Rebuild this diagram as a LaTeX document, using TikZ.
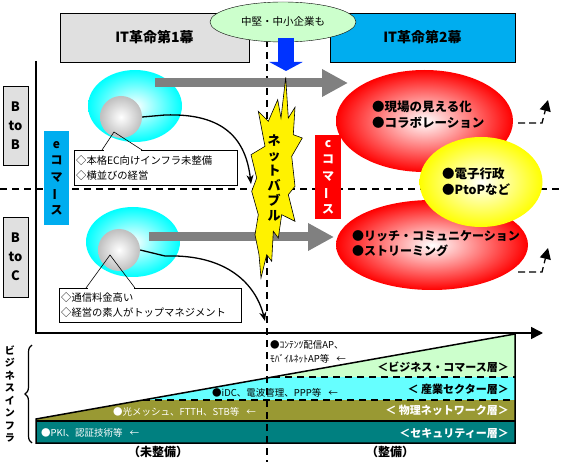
\documentclass[tikz,border=0pt]{standalone}
\usepackage{fontspec}
\setmainfont{Noto Sans CJK JP}
\usepackage{tikz}
\usetikzlibrary{arrows.meta, positioning, shapes.geometric, decorations.pathreplacing}
\definecolor{colorPanel}{HTML}{E0E0E0}
\definecolor{colorMint}{HTML}{CCFFCC}
\definecolor{colorAqua}{HTML}{66FFFF}
\definecolor{colorOlive}{HTML}{999933}
\definecolor{colorTeal}{HTML}{008080}
\definecolor{arrowGray}{HTML}{808080}
\definecolor{arrowBlue}{HTML}{0033FF}
\tikzset{guide/.style={line width=1.5pt, dash pattern=on 7pt off 5pt}}
\newcommand{\vbar}{\rotatebox[origin=c]{90}{ー}}

\begin{document}
\begin{tikzpicture}[x=1pt, y=-1pt, >={Stealth[length=9pt,width=7pt]},
  era/.style={draw, line width=0.8pt, inner sep=0pt, minimum height=49pt, font=\fontsize{14}{16}\selectfont\bfseries},
  tag/.style={draw, inner sep=0pt, align=center, font=\fontsize{12}{16.5}\selectfont\bfseries},
  blob/.style={ellipse, inner sep=0pt, shading=radial, inner color=white},
  ball/.style={circle, inner sep=0pt, minimum size=42pt, shading=radial, inner color=white, outer color=black!25},
  memo/.style={draw, fill=white, anchor=north west, inner sep=2pt, align=left, font=\fontsize{10.3}{15}\selectfont},
  bullets/.style={anchor=west, inner sep=0pt, align=left, font=\fontsize{12.5}{16}\selectfont\bfseries},
  fat/.style={line width=9pt, arrowGray, -{Triangle[length=26pt,width=26pt]}},
  hop/.style={line width=1.3pt, dash pattern=on 7pt off 4pt, -{Triangle[length=11pt,width=11pt]}},
  layer/.style={anchor=east, inner sep=0pt, font=\fontsize{11}{13}\selectfont\bfseries},
  note/.style={anchor=west, inner sep=0pt, align=left, font=\fontsize{9.5}{14}\selectfont},
  vtext/.style={inner sep=0pt, align=center}]
\useasboundingbox (0,0) rectangle (562,462);

% infrastructure layers
\begin{scope}
\clip (36,419) -- (515,334) -- (515,443) -- (36,443) -- cycle;
\fill[colorMint] (36,334) rectangle (515,377);
\fill[colorAqua] (36,377) rectangle (515,400);
\fill[colorOlive] (36,400) rectangle (515,421);
\end{scope}
\fill[colorTeal] (36,421) rectangle (515,443);
\draw[line width=1.5pt] (36,419) -- (515,334) -- (515,443) -- (36,443) -- cycle;
\draw[line width=1.5pt] (36,421) -- (515,421);
\draw[guide] (273,377) -- (515,377);
\draw[guide] (143,400) -- (515,400);
\node[layer] (lyBiz) at (509,367) {＜ビジネス・コマース層＞};
\node[layer] (lyInd) at (509,389) {＜ 産業セクター層＞};
\node[layer, text=white] (lyPhy) at (509,410) {＜ 物理ネットワーク層＞};
\node[layer, text=white] (lySec) at (509,433) {＜セキュリティー層＞};
\node[note, text=white] (ntSec) at (41,433) {●PKI、認証技術等\hspace{7pt}←};
\node[note, text=white] (ntPhy) at (113,412) {●光メッシュ、FTTH、STB等\hspace{7pt}←};
\node[note] (ntInd) at (212,393) {●iDC、電波管理、PPP等\hspace{7pt}←};
\node[note] (ntBiz) at (270,352) {●ｺﾝﾃﾝﾂ配信AP、\\ﾓﾊﾞｲﾙﾈｯﾄAP等\hspace{7pt}←};
\node[font=\fontsize{12}{14}\selectfont\bfseries] (unready) at (158,452) {（未整備）};
\node[font=\fontsize{12}{14}\selectfont\bfseries] (ready) at (390,452) {（整備）};
\draw[line width=1.2pt, decorate, decoration={brace, amplitude=7pt}] (32,443) -- (32,345);
\node[vtext, font=\fontsize{10}{12.5}\selectfont\bfseries] (infra) at (10,394) {ビ\\ジ\\ネ\\ス\\イ\\ン\\フ\\ラ};

% guides and axes
\draw[guide] (0,189) -- (562,189);
\draw[guide] (267,40) -- (267,462);
\draw[line width=1.5pt, -{Triangle[length=12pt,width=12pt]}] (36,61) |- (543,333);

% eras
\node[era, fill=colorPanel, minimum width=189pt] (eraOne) at (154.5,37.5) {IT革命第1幕};
\node[era, fill=cyan, minimum width=185pt] (eraTwo) at (422.5,37.5) {IT革命第2幕};
\node[ellipse, draw, fill=colorMint, minimum width=146pt, minimum height=40pt, inner sep=0pt, font=\fontsize{10.5}{12}\selectfont] (sme) at (283,22) {中堅・中小企業も};
\coordinate (smeFoot) at (286,38);
\coordinate (bubbleTop) at (286,71);
\draw[line width=16pt, arrowBlue, -{Triangle[length=9pt,width=33pt]}] (smeFoot) -- (bubbleTop);

% B to B / B to C
\node[tag, fill=colorPanel, minimum width=25pt, minimum height=79pt, font=\fontsize{13}{19}\selectfont\bfseries] (btob) at (15.5,125.5) {B\\to\\B};
\node[tag, fill=colorPanel, minimum width=25pt, minimum height=80pt, font=\fontsize{13}{19}\selectfont\bfseries] (btoc) at (15.5,257) {B\\to\\C};

% callouts
\node[memo, text width=159pt, minimum height=35pt] (memoB) at (74,150) {◇本格EC向けインフラ未整備\\◇横並びの経営};
\node[memo, text width=178pt, minimum height=34pt] (memoC) at (59,288) {◇通信料金高い\\◇経営の素人がトップマネジメント};
\fill[white] (103.5,148.5) rectangle (140.5,151.5);
\fill[white] (87.5,286.5) rectangle (133.5,289.5);

% e-commerce bubbles
\node[blob, outer color=cyan, minimum width=94pt, minimum height=72pt] (cyA) at (135,106) {};
\node[blob, outer color=cyan, minimum width=94pt, minimum height=70pt] (cyB) at (133,242) {};
\node[ball] (ballA) at (121,117) {};
\node[ball] (ballB) at (119,250) {};
\draw[line width=0.6pt] (102,150) -- (114,132) -- (142,150);
\draw[line width=0.6pt] (86,288) -- (110,255) -- (135,288);
\coordinate (dropA) at (251,184);
\coordinate (dropB) at (265,321);
\draw[line width=1.3pt, ->] (ballA.east) -- (165,115) .. controls (225,113) and (246,140) .. (dropA);
\draw[line width=1.3pt, ->] (ballB.east) -- (165,256) .. controls (228,254) and (256,285) .. (dropB);

% big arrows
\coordinate (fatA) at (155,83);
\coordinate (fatAend) at (348,83);
\coordinate (fatB) at (149,237);
\coordinate (fatBend) at (334,237);
\draw[fat] (fatA) -- (fatAend);
\draw[fat] (fatB) -- (fatBend);

% net bubble
\filldraw[fill=yellow, draw=black, line width=0.6pt]
  (285.7,77.3) -- (288.3,118) -- (295,107.3) -- (293.3,134.7) -- (302.3,138)
  -- (291.7,156.3) -- (295,186.3) -- (288.3,194.7) -- (295,221.3) -- (281.7,214.7)
  -- (278.3,238) -- (273.3,231.3) -- (271.7,261.3) -- (266.7,254.7) -- (261,278)
  -- (259,254.7) -- (255,234.7) -- (258.3,214.7) -- (251.7,191.3) -- (256.7,178)
  -- (251,154.7) -- (265,146.3) -- (258.3,111.3) -- (268.3,121.3) -- (277.7,99.7)
  -- (281,118) -- cycle;
\node[vtext, font=\fontsize{13}{15}\selectfont\bfseries] (bubble) at (274,178) {ネ\\ッ\\ト\\バ\\ブ\\ル};

% commerce boxes
\node[tag, draw=none, fill=cyan, minimum width=25pt, minimum height=94pt] (ecom) at (56.5,178) {e\\コ\\マ\\\vbar\\ス};
\node[tag, draw=none, fill=red, text=white, minimum width=26pt, minimum height=84pt] (ccom) at (328,177) {c\\コ\\マ\\\vbar\\ス};

% c-commerce bubbles
\node[blob, outer color=red, minimum width=177pt, minimum height=102pt] (redA) at (424.5,121) {};
\node[blob, outer color=red, minimum width=192pt, minimum height=90pt] (redB) at (432,245) {};
\node[blob, outer color=yellow, minimum width=123pt, minimum height=90pt] (yel) at (481,182) {};
\node[bullets] (txA) at (372,115) {●現場の見える化\\●コラボレーション};
\node[bullets, font=\fontsize{12}{15}\selectfont\bfseries] (txB) at (352,243.5) {●リッチ・コミュニケーション\\●ストリーミング};
\node[bullets] (txY) at (442,182) {●電子行政\\●PtoPなど};

% next steps
\coordinate (hopA) at (518,123);
\coordinate (hopAup) at (548,100);
\coordinate (hopB) at (518,272);
\coordinate (hopBup) at (548,248);
\draw[hop] (hopA) -- (542,123) -- (hopAup);
\draw[hop] (hopB) -- (542,272) -- (hopBup);
\end{tikzpicture}
\end{document}
